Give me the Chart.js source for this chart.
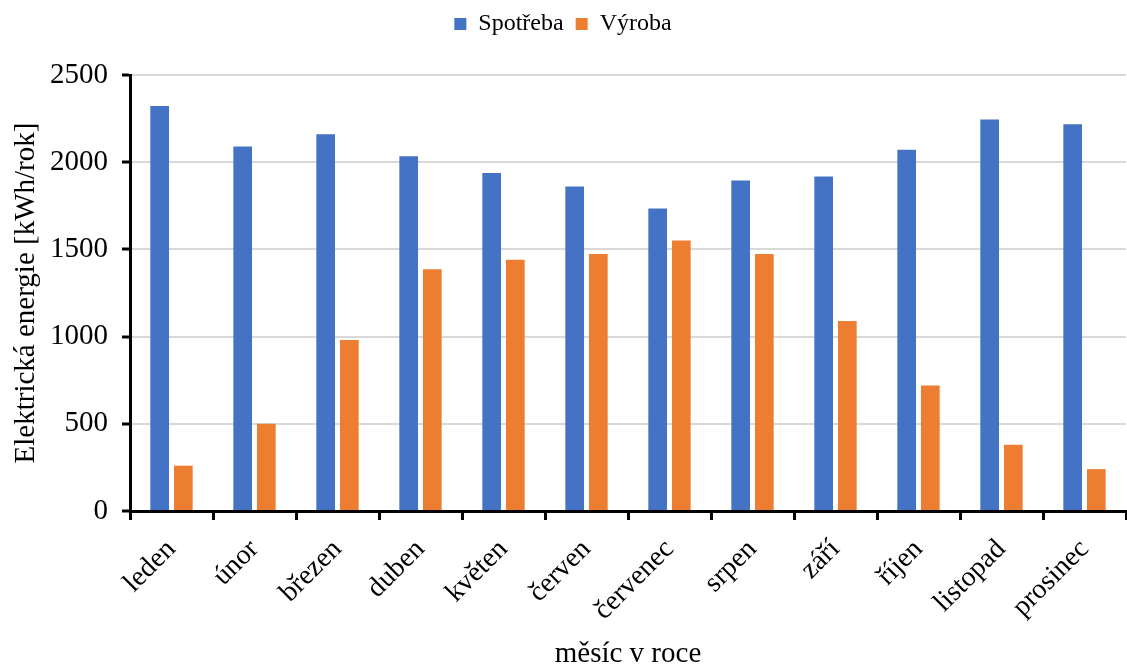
<!DOCTYPE html>
<html>
<head>
<meta charset="utf-8">
<script src="https://cdn.jsdelivr.net/npm/chart.js@4.4.1/dist/chart.umd.min.js"></script>
<style>
  body { margin: 0; background: #fff; }
  #wrap { width: 1127px; height: 666px; }
</style>
</head>
<body>
<div id="wrap"><canvas id="myChart" width="1127" height="666"></canvas></div>
<script>
// months and values
const months = ['leden', 'únor', 'březen', 'duben', 'květen', 'červen', 'červenec', 'srpen', 'září', 'říjen', 'listopad', 'prosinec'];
const spotreba = [2322, 2090, 2160, 2034, 1938, 1860, 1735, 1895, 1918, 2072, 2245, 2218];
const vyroba = [260, 500, 980, 1386, 1441, 1473, 1551, 1473, 1090, 720, 380, 240];
const yTicks = [0, 500, 1000, 1500, 2000, 2500];

const serif = 'Liberation Serif';

// give the legend some extra room below it so the plot starts lower
const legendSpace = {
  id: 'legendSpace',
  afterInit(chart) {
    const lg = chart.legend;
    if (!lg) return;
    const fit = lg.fit;
    lg.fit = function () {
      fit.call(this);
      this.height += 29;
    };
  }
};

const ctx = document.getElementById('myChart').getContext('2d');
new Chart(ctx, {
  type: 'bar',
  data: {
    labels: months,
    datasets: [{
      label: 'Spotřeba',
      data: spotreba,
      backgroundColor: '#4472C4',
      categoryPercentage: 0.57,
      barPercentage: 0.79
    }, {
      label: 'Výroba',
      data: vyroba,
      backgroundColor: '#ED7D31',
      categoryPercentage: 0.57,
      barPercentage: 0.79
    }]
  },
  plugins: [legendSpace],
  options: {
    responsive: false,
    animation: false,
    layout: { padding: { top: 0, right: 1, left: 0, bottom: 0 } },
    plugins: {
      tooltip: { enabled: false },
      legend: {
        position: 'top',
        labels: {
          color: '#000',
          font: { family: serif, size: 24 },
          boxWidth: 12,
          boxHeight: 12,
          padding: 12
        }
      }
    },
    scales: {
      x: {
        afterFit: axis => { axis.height = 155; },
        grid: {
          offset: true,
          drawOnChartArea: false,
          tickColor: '#000',
          tickLength: 9,
          tickWidth: 3
        },
        border: { color: '#000', width: 3 },
        ticks: {
          color: '#000',
          font: { family: serif, size: 28 },
          minRotation: 45,
          maxRotation: 45,
          padding: 13
        },
        title: {
          display: true,
          text: 'měsíc v roce',
          color: '#000',
          font: { family: serif, size: 29, lineHeight: 0.8 },
          padding: { top: 0, bottom: 0 }
        }
      },
      y: {
        min: 0,
        max: 2500,
        afterBuildTicks: axis => { axis.ticks = yTicks.map(v => ({ value: v })); },
        afterFit: axis => { axis.width = 130; },
        grid: {
          color: '#d9d9d9',
          lineWidth: 2,
          tickColor: '#000',
          tickLength: 8,
          tickWidth: 3
        },
        border: { color: '#000', width: 3 },
        ticks: {
          color: '#000',
          font: { family: serif, size: 29 },
          padding: 14,
          callback: v => String(v)
        },
        title: {
          display: true,
          text: 'Elektrická energie [kWh/rok]',
          color: '#000',
          font: { family: serif, size: 29 },
          padding: { top: 9, bottom: 0 }
        }
      }
    }
  }
});
</script>
</body>
</html>
